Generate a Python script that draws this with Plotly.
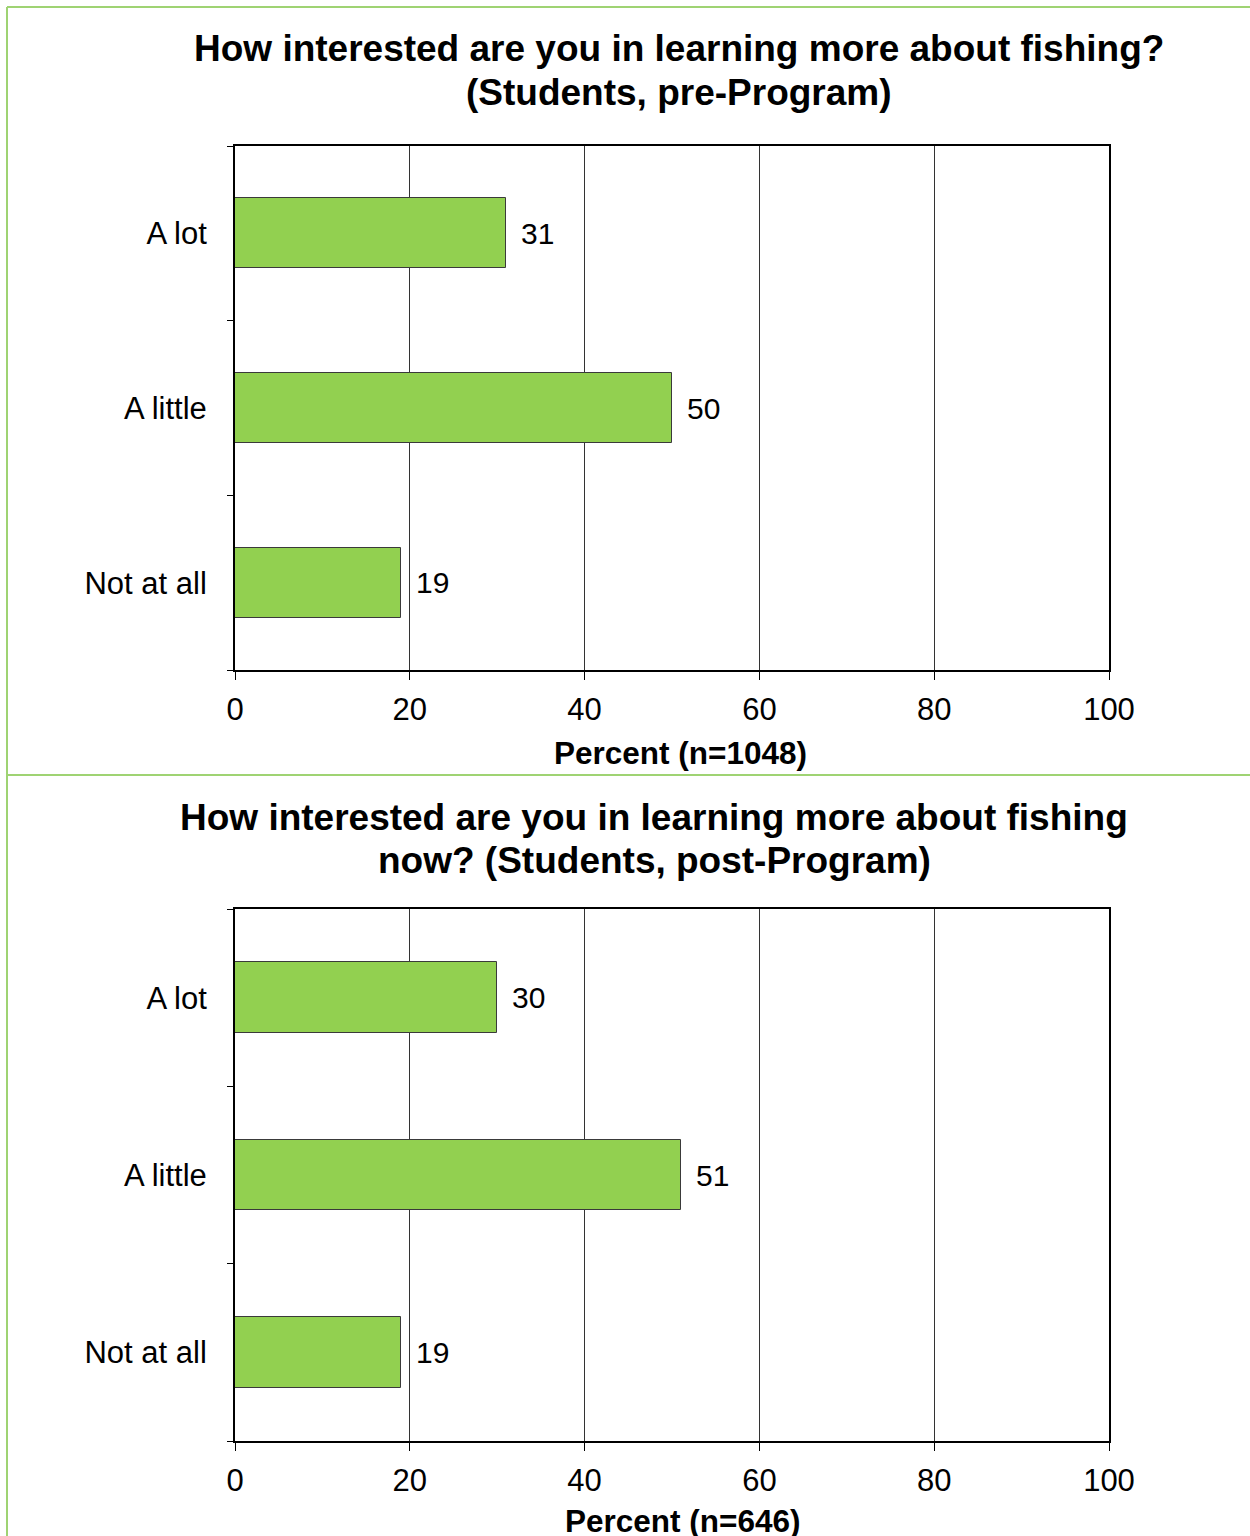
import plotly.graph_objects as go

categories = ["Not at all", "A little", "A lot"]
pre_values = [19, 50, 31]
post_values = [19, 51, 30]
x_ticks = [0, 20, 40, 60, 80, 100]
title_pre = ["How interested are you in learning more about fishing?", "(Students, pre-Program)"]
title_post = ["How interested are you in learning more about fishing", "now? (Students, post-Program)"]
xtitle_pre = "Percent (n=1048)"
xtitle_post = "Percent (n=646)"

W, H = 1250, 1536
FONT = "Liberation Sans, Arial, sans-serif"
BAR = "#92D050"
FRAME = "#9FD373"


def py(p):
    return 1 - p / H


def px(p):
    return p / W


fig = go.Figure()
for vals, xa_id, ya_id in [(pre_values, "x", "y"), (post_values, "x2", "y2")]:
    fig.add_trace(go.Bar(x=vals, y=categories, orientation="h", width=0.4,
                         marker=dict(color=BAR, line=dict(color="#3a3a3a", width=1)),
                         cliponaxis=False, xaxis=xa_id, yaxis=ya_id, showlegend=False,
                         hoverinfo="skip"))

xa = dict(range=[0, 100], tickvals=x_ticks, showgrid=True, gridcolor="#333333", gridwidth=1,
          showline=True, linecolor="black", linewidth=2, mirror=True, ticks="outside",
          ticklen=8, tickcolor="black", tickwidth=1, zeroline=False,
          tickfont=dict(size=31, family=FONT, color="black"), fixedrange=True,
          ticklabelstandoff=3, automargin=False)
ya = dict(categoryorder="array", categoryarray=categories, showline=True, linecolor="black",
          linewidth=2, mirror=True, ticks="outside", tickson="boundaries", ticklen=6,
          tickcolor="black", tickwidth=1, showgrid=False, range=[-0.5, 2.5],
          tickfont=dict(size=31, family=FONT, color="black"), ticklabelstandoff=20,
          fixedrange=True, automargin=False)

fig.update_layout(
    width=W, height=H, margin=dict(l=0, r=0, t=0, b=0, pad=0), autosize=False,
    paper_bgcolor="white", plot_bgcolor="white", bargap=0,
    font=dict(family=FONT, color="black"),
    xaxis=dict(xa, domain=[px(235), px(1109)], anchor="y"),
    yaxis=dict(ya, domain=[py(670), py(146)], anchor="x"),
    xaxis2=dict(xa, domain=[px(235), px(1109)], anchor="y2"),
    yaxis2=dict(ya, domain=[py(1441), py(909)], anchor="x2"),
)

annotations = []
# value labels
for vals, xr, yr in [(pre_values, "x", "y"), (post_values, "x2", "y2")]:
    for c, v in zip(categories, vals):
        annotations.append(dict(text=str(v), x=v, y=c, xref=xr, yref=yr, showarrow=False,
                                xanchor="left", yanchor="middle", xshift=13,
                                font=dict(size=30, family=FONT, color="black")))

# titles
for line, yc in zip(title_pre, [49, 92]):
    annotations.append(dict(text="<b>" + line + "</b>", x=px(679), y=py(yc), xref="paper",
                            yref="paper", showarrow=False, xanchor="center", yanchor="middle",
                            font=dict(size=37, family=FONT, color="black")))
for line, yc in zip(title_post, [817, 860]):
    annotations.append(dict(text="<b>" + line + "</b>", x=px(654), y=py(yc), xref="paper",
                            yref="paper", showarrow=False, xanchor="center", yanchor="middle",
                            font=dict(size=37, family=FONT, color="black")))
annotations.append(dict(text="<b>" + xtitle_pre + "</b>", x=px(681), y=py(753), xref="paper",
                        yref="paper", showarrow=False, xanchor="center", yanchor="middle",
                        font=dict(size=31.5, family=FONT, color="black")))
annotations.append(dict(text="<b>" + xtitle_post + "</b>", x=px(682), y=py(1521), xref="paper",
                        yref="paper", showarrow=False, xanchor="center", yanchor="middle",
                        font=dict(size=31.5, family=FONT, color="black")))
fig.update_layout(annotations=annotations)

shapes = [
    dict(type="line", xref="paper", yref="paper", x0=px(7), x1=px(7), y0=py(7), y1=py(1536),
         line=dict(color=FRAME, width=2)),
    dict(type="line", xref="paper", yref="paper", x0=px(7), x1=1, y0=py(7), y1=py(7),
         line=dict(color=FRAME, width=2)),
    dict(type="line", xref="paper", yref="paper", x0=px(7), x1=1, y0=py(775), y1=py(775),
         line=dict(color=FRAME, width=2)),
]
fig.update_layout(shapes=shapes)

fig.write_html(
    "out.html",
    config={"displayModeBar": False},
    post_script="document.body.style.margin='0';document.documentElement.style.overflow='hidden';document.body.style.overflow='hidden';",
)
